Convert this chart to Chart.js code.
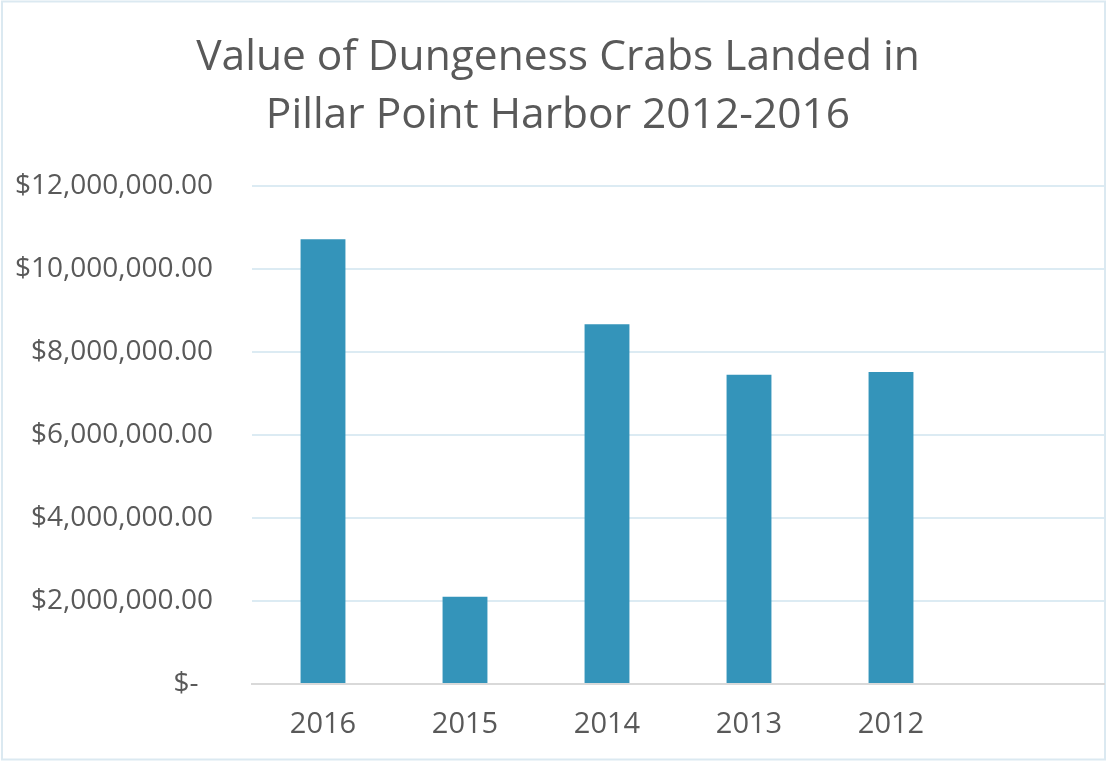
<!DOCTYPE html>
<html>
<head>
<meta charset="utf-8">
<script src="https://cdn.jsdelivr.net/npm/chart.js@4"></script>
<style>
  html, body { margin: 0; padding: 0; background: #ffffff; }
  #wrap { position: relative; width: 1107px; height: 762px; }
  canvas { display: block; }
</style>
</head>
<body>
<div id="wrap"><canvas id="c" width="1107" height="762"></canvas></div>
<script>
const titleLines = ["Value of Dungeness Crabs Landed in", "Pillar Point Harbor 2012-2016"];
const categories = ["2016", "2015", "2014", "2013", "2012", ""];
const values = [10720000, 2100000, 8670000, 7450000, 7520000, null];
const yMin = 0;
const yMax = 12000000;
const yStep = 2000000;

const FONT = "'Open Sans', 'Noto Sans', sans-serif";
const TEXT = "#595959";

function money(v) {
  if (v === 0) return "$-  ";
  return "$" + v.toLocaleString("en-US", { minimumFractionDigits: 2, maximumFractionDigits: 2 });
}

const borderPlugin = {
  id: "frameBorder",
  beforeDraw(chart) {
    const ctx = chart.ctx;
    ctx.save();
    ctx.fillStyle = "#ffffff";
    ctx.fillRect(0, 0, chart.width, chart.height);
    ctx.strokeStyle = "#dbe9f1";
    ctx.lineWidth = 2;
    ctx.strokeRect(2, 1.5, chart.width - 4, chart.height - 4);
    ctx.restore();
  }
};

new Chart(document.getElementById("c"), {
  type: "bar",
  data: {
    labels: categories,
    datasets: [{
      data: values,
      backgroundColor: "#3494ba",
      borderWidth: 0,
      categoryPercentage: 1,
      barPercentage: 0.316
    }]
  },
  options: {
    responsive: false,
    animation: false,
    layout: { padding: { left: 12, right: 3, top: 29, bottom: 6 } },
    plugins: {
      legend: { display: false },
      tooltip: { enabled: false },
      title: {
        display: true,
        text: titleLines,
        color: TEXT,
        font: { family: FONT, size: 42.5, weight: "normal", lineHeight: 1.365 },
        padding: { top: 0, bottom: 41 }
      }
    },
    scales: {
      x: {
        grid: { display: false, drawTicks: false },
        border: { display: true, color: "#d9d9d9", width: 2 },
        ticks: { color: TEXT, font: { family: FONT, size: 29 }, padding: 23, maxRotation: 0 },
        afterFit(s) { s.height = 72; }
      },
      y: {
        min: yMin,
        max: yMax,
        grid: { color: "#dcebf3", lineWidth: 2, drawTicks: false },
        border: { display: false },
        ticks: {
          stepSize: yStep,
          color: TEXT,
          font: { family: FONT, size: 28 },
          padding: 39,
          callback: (v) => money(v)
        },
        afterFit(s) { s.width = 240; }
      }
    }
  },
  plugins: [borderPlugin]
});
</script>
</body>
</html>
